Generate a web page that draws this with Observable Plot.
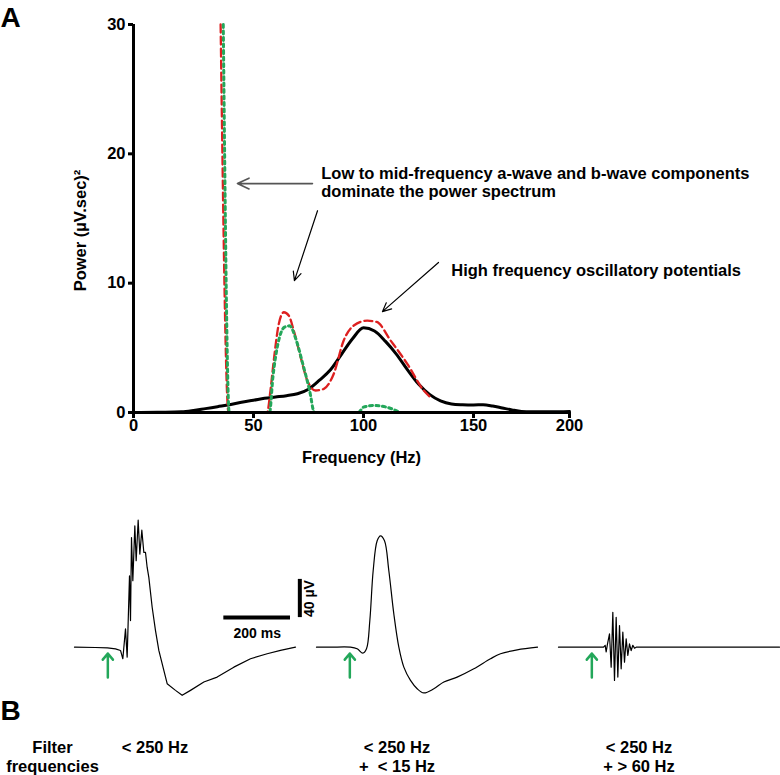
<!DOCTYPE html>
<html><head><meta charset="utf-8">
<script src="https://cdn.jsdelivr.net/npm/d3@7"></script>
<script src="https://cdn.jsdelivr.net/npm/@observablehq/plot@0.6"></script>
<style>
body{margin:0;background:#fff;}
#fig{position:relative;width:780px;height:775px;background:#fff;}
#fig svg{display:block;font-family:"Liberation Sans",Arial,sans-serif;}
</style></head><body><div id="fig"></div>
<script>
// ---------- Panel A data ----------
const xTicks = [0, 50, 100, 150, 200];
const yTicks = [0, 10, 20, 30];
const freqBlack  = [3, 10, 20, 25, 30, 35, 40, 45, 50, 55, 60, 65, 70, 75, 80, 85, 90, 95, 100, 105, 110, 115, 120, 125, 130, 135, 140, 145, 150, 155, 160, 165, 170, 175, 180, 190, 200];
const powerBlack = [0, 0.02, 0.05, 0.15, 0.3, 0.45, 0.6, 0.8, 0.95, 1.1, 1.2, 1.3, 1.45, 1.8, 2.5, 3.3, 4.5, 5.7, 6.55, 6.3, 5.5, 4.5, 3.3, 2.2, 1.4, 0.9, 0.66, 0.6, 0.58, 0.6, 0.5, 0.35, 0.2, 0.08, 0.05, 0.05, 0.08];
const freqRed  = [36.3, 39.6, 56.2, 57.7, 59.2, 61.5, 63.8, 66, 68.3, 71.4, 74.4, 78.2, 82, 86.5, 91, 95.6, 101.7, 106, 112.3, 119.9, 127.4, 131];
const powerRed = [30, 0, 0, 1.7, 4.0, 6.85, 7.75, 7.5, 6.34, 4.3, 2.5, 1.7, 1.83, 3.0, 5.57, 6.73, 7.1, 7.0, 5.57, 3.76, 1.7, 1.1];
const freqGreen  = [37.4, 39.9, 57.3, 58.8, 61.1, 64.1, 66.4, 69.4, 72.4, 75.5, 77.7, 97.6, 100, 104.5, 110.6, 116.6];
const powerGreen = [30, 0, 0, 2.7, 5.3, 6.6, 6.7, 5.6, 3.76, 1.7, 0, 0, 0.41, 0.54, 0.41, 0];
const noteText  = ["Low to mid-frequency a-wave and b-wave components\ndominate the power spectrum", "High frequency oscillatory potentials"];
const noteFreq  = [80.8, 139.9];
const notePower = [19.1, 11.6];
const arrowFromFreq  = [76.8, 79.1, 134.1];
const arrowFromPower = [17.7, 15.6, 11.6];
const arrowToFreq    = [43.3, 68.6, 108.6];
const arrowToPower   = [17.7, 10.2, 7.8];

// ---------- Panel B data ----------
const traceKeys   = ["raw", "low", "high"];
const filterLabel = ["< 250 Hz", "< 250 Hz\n+\u00a0\u00a0< 15 Hz", "< 250 Hz\n+ > 60 Hz"];
const flashMs = 100;
const t1 = [0, 63, 99, 123, 138, 145, 153, 158, 165, 168, 171, 175, 181, 185, 191, 196, 202, 208, 213, 218, 223, 233, 243, 253, 268, 278, 303, 323, 348, 388, 428, 478, 528, 578, 618, 663];
const v1 = [0, -0.3, -0.8, -1.7, -3.4, -12.1, 19.2, -10.4, 74.8, 27.9, 114.8, 69.6, 127, 90.5, 133, 97.5, 122.5, 99.2, 99.2, 83.5, 73.1, 41.8, 17.4, -3.4, -24.3, -38.2, -45.2, -50.4, -45.2, -36.5, -31.3, -20.9, -12.1, -6.9, -3.4, 0];
const t2 = [0, 42, 102, 122, 139, 150, 160, 170, 182, 192, 204, 217, 232, 247, 262, 282, 302, 322, 352, 382, 422, 472, 522, 552, 602, 663];
const v2 = [0, 0, 0, -1.7, -6.3, -1.7, 27.9, 80.1, 111.4, 116.6, 111.4, 80.1, 34.8, 0, -20.9, -34.8, -43.5, -47.9, -43.5, -36.5, -31.3, -22.6, -12.1, -6.9, -2.8, 0];
const t3 = [0, 135, 140, 143, 147, 153, 158, 163, 168, 173, 178, 183, 188, 193, 198, 203, 208, 213, 218, 223, 228, 233, 663];
const v3 = [0, 0, 2, -5, 3.5, 13.9, -20.9, 36.5, -34.8, 31.3, -31.3, 22.6, -22.6, 15.7, -15.7, 8.7, -8.7, 3.5, -3.5, 2, -1, 0, 0];
const scaleBarMs = 200, scaleBarUv = 40;
const barStartMs = 448, barLevelUv = 31, vBarMs = 676;

// ---------- build tables ----------
const FONT = "Liberation Sans, Arial, sans-serif";
const FS = 16.5;
const rows = (xs, ys) => xs.map((x, i) => ({x, y: ys[i]}));
const notes = noteText.map((text, i) => ({text, x: noteFreq[i], y: notePower[i]}));
const arrows = arrowFromFreq.map((x1, i) => ({x1, y1: arrowFromPower[i], x2: arrowToFreq[i], y2: arrowToPower[i], gray: i === 0}));

const GREEN = "#23a75a";
const plotA = Plot.plot({
  width: 780, height: 480,
  marginLeft: 133, marginRight: 211, marginTop: 24, marginBottom: 68,
  x: {type: "linear", domain: xTicks, range: [133, 253, 363, 473, 569]},
  y: {domain: [0, 30]},
  style: {fontFamily: FONT, fontSize: "16px", fontWeight: "bold", color: "#000", background: "#fff", overflow: "visible"},
  marks: [
    Plot.line(rows(freqBlack, powerBlack), {x: "x", y: "y", stroke: "#000", strokeWidth: 3, curve: "monotone-x"}),
    Plot.line(rows(freqRed, powerRed), {x: "x", y: "y", stroke: "#dd2020", strokeWidth: 2.3, strokeDasharray: "8,4", curve: "monotone-x"}),
    Plot.line(rows(freqGreen, powerGreen), {x: "x", y: "y", stroke: GREEN, strokeWidth: 3, strokeDasharray: "3,3.5", curve: "monotone-x"}),
    Plot.ruleX([0], {y1: 0, y2: 30, stroke: "#000", strokeWidth: 3}),
    Plot.ruleY([0], {stroke: "#000", strokeWidth: 3}),
    Plot.axisX({ticks: xTicks, tickSize: 6, tickPadding: 1, strokeWidth: 3, label: null, fontSize: FS, fontWeight: "bold", fill: "#000"}),
    Plot.axisY({ticks: yTicks, tickSize: 5, tickPadding: 3, strokeWidth: 3, label: null, fontSize: FS, fontWeight: "bold", fill: "#000"}),
    Plot.text(["Frequency (Hz)"], {frameAnchor: "bottom", dx: 10, dy: 50, fontSize: FS, fontWeight: "bold", fill: "#000"}),
    Plot.text(["Power (\u00b5V.sec)\u00b2"], {frameAnchor: "left", textAnchor: "middle", dx: -53, dy: 12, rotate: -90, fontSize: FS, fontWeight: "bold", fill: "#000"}),
    Plot.text(["A"], {frameAnchor: "top-left", dx: -133, dy: -17, textAnchor: "start", lineAnchor: "top", fontSize: 28, fontWeight: "bold", fill: "#000"}),
    Plot.arrow(arrows.filter(d => d.gray), {x1: "x1", y1: "y1", x2: "x2", y2: "y2", stroke: "#555", strokeWidth: 1.6, headLength: 12, headAngle: 50}),
    Plot.arrow(arrows.filter(d => !d.gray), {x1: "x1", y1: "y1", x2: "x2", y2: "y2", stroke: "#000", strokeWidth: 1.2, headLength: 12, headAngle: 50}),
    Plot.text(notes, {x: "x", y: "y", text: "text", textAnchor: "start", lineAnchor: "top", lineHeight: 1.12, fontSize: FS, fontWeight: "bold", fill: "#000"})
  ]
});

const traceRows = [[t1, v1], [t2, v2], [t3, v3]].flatMap(([ts, vs], k) => ts.map((t, i) => ({trace: traceKeys[k], t, v: vs[i]})));
const labelRows = traceKeys.map((trace, i) => ({trace, label: filterLabel[i]}));
const flashRows = traceKeys.map(trace => ({trace, t: flashMs}));
const barRows = [{trace: traceKeys[0]}];

const plotB = Plot.plot({
  width: 780, height: 295,
  marginLeft: 74, marginRight: 1, marginTop: 33, marginBottom: 71,
  fx: {domain: traceKeys, paddingInner: 0.0868, paddingOuter: 0, axis: null, label: null},
  x: {domain: [0, 663], axis: null},
  y: {domain: [-60, 140], axis: null},
  style: {fontFamily: FONT, fontSize: "16px", fontWeight: "bold", color: "#000", background: "#fff", overflow: "visible"},
  marks: [
    Plot.line(traceRows.filter(d => d.trace !== "low"), {x: "t", y: "v", z: "trace", fx: "trace", stroke: "#000", strokeWidth: 1.2}),
    Plot.line(traceRows.filter(d => d.trace === "low"), {x: "t", y: "v", fx: "trace", stroke: "#000", strokeWidth: 1.2, curve: "catmull-rom"}),
    Plot.arrow(flashRows, {fx: "trace", x1: "t", x2: "t", y1: () => -31.6, y2: () => -6.7, stroke: GREEN, strokeWidth: 2.5, headLength: 9, headAngle: 80}),
    Plot.ruleY(barRows, {fx: "trace", y: () => barLevelUv, x1: () => barStartMs, x2: () => barStartMs + scaleBarMs, stroke: "#000", strokeWidth: 4}),
    Plot.ruleX(barRows, {fx: "trace", x: () => vBarMs, y1: () => barLevelUv, y2: () => barLevelUv + scaleBarUv, stroke: "#000", strokeWidth: 4}),
    Plot.text(barRows, {fx: "trace", x: () => barStartMs + scaleBarMs / 2, y: () => barLevelUv, dy: 16, text: () => `${scaleBarMs} ms`, fontSize: 14, fontWeight: "bold", fill: "#000"}),
    Plot.text(barRows, {fx: "trace", x: () => vBarMs, y: () => barLevelUv + scaleBarUv / 2, dx: 10, rotate: -90, text: () => `${scaleBarUv} \u00b5V`, fontSize: 14, fontWeight: "bold", fill: "#000"}),
    Plot.text(labelRows, {fx: "trace", text: "label", frameAnchor: "bottom", dx: -30, dy: 35, lineAnchor: "top", lineHeight: 1.15, fontSize: FS, fontWeight: "bold", fill: "#000"}),
    Plot.text(barRows, {fx: "trace", text: () => "Filter\nfrequencies", frameAnchor: "bottom-left", textAnchor: "middle", dx: -22, dy: 35, lineAnchor: "top", lineHeight: 1.15, fontSize: FS, fontWeight: "bold", fill: "#000"}),
    Plot.text(barRows, {fx: "trace", text: () => "B", frameAnchor: "top-left", dx: -74, dy: 187, textAnchor: "start", lineAnchor: "top", fontSize: 28, fontWeight: "bold", fill: "#000"})
  ]
});

const fig = document.getElementById("fig");
fig.appendChild(plotA);
fig.appendChild(plotB);
</script>
</body></html>
